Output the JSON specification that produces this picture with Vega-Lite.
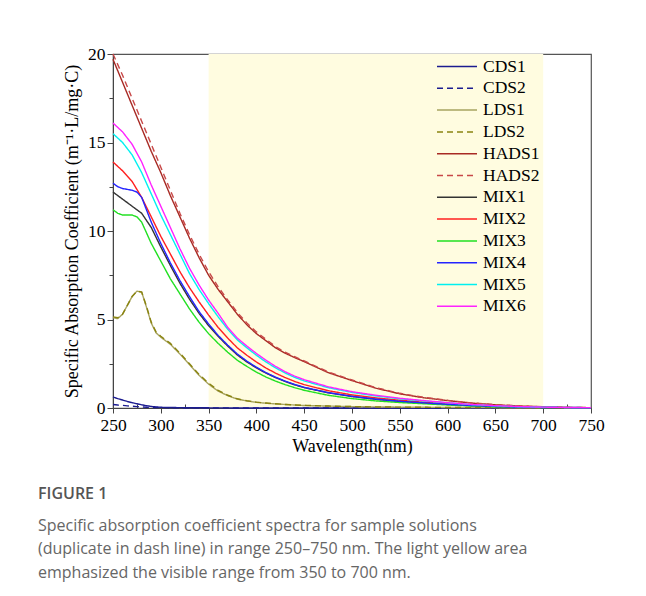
{
  "$schema": "https://vega.github.io/schema/vega-lite/v6.json",
  "width": 478,
  "height": 354,
  "autosize": "none",
  "padding": {"left": 113, "top": 54, "right": 55, "bottom": 188},
  "background": "white",
  "config": {"view": {"stroke": "#555", "strokeWidth": 1.2}, "font": "Liberation Serif"},
  "title": {
    "text": "FIGURE 1",
    "subtitle": ["Specific absorption coefficient spectra for sample solutions", "(duplicate in dash line) in range 250–750 nm. The light yellow area", "emphasized the visible range from 350 to 700 nm."],
    "orient": "bottom", "anchor": "start", "frame": "group", "dx": -75, "offset": 30,
    "font": "Open Sans", "fontSize": 16, "fontWeight": 600, "color": "#555",
    "subtitleFont": "Open Sans", "subtitleFontSize": 16, "subtitleColor": "#666", "subtitleLineHeight": 23.8, "subtitlePadding": 16
  },
  "datasets": {
    "band": [{"a": 350, "b": 700}],
    "spectra": [
      {"w":250,"CDS1":0.62,"CDS2":0.2,"LDS1":5.1,"LDS2":5.15,"HADS1":19.7,"HADS2":20.0,"MIX1":12.2,"MIX2":13.9,"MIX3":11.2,"MIX4":12.7,"MIX5":15.5,"MIX6":16.1},
      {"w":255,"CDS1":0.53,"CDS2":0.17,"LDS1":5.05,"LDS2":5.1,"HADS1":19.05,"HADS2":19.4,"MIX1":12.0,"MIX2":13.65,"MIX3":11.0,"MIX4":12.5,"MIX5":15.25,"MIX6":15.85},
      {"w":260,"CDS1":0.45,"CDS2":0.15,"LDS1":5.3,"LDS2":5.3,"HADS1":18.4,"HADS2":18.8,"MIX1":11.8,"MIX2":13.4,"MIX3":10.9,"MIX4":12.4,"MIX5":15.0,"MIX6":15.6},
      {"w":265,"CDS1":0.37,"CDS2":0.12,"LDS1":5.8,"LDS2":5.8,"HADS1":17.75,"HADS2":18.15,"MIX1":11.6,"MIX2":13.1,"MIX3":10.9,"MIX4":12.35,"MIX5":14.65,"MIX6":15.25},
      {"w":270,"CDS1":0.3,"CDS2":0.1,"LDS1":6.3,"LDS2":6.3,"HADS1":17.1,"HADS2":17.5,"MIX1":11.4,"MIX2":12.8,"MIX3":10.9,"MIX4":12.3,"MIX5":14.3,"MIX6":14.9},
      {"w":275,"CDS1":0.24,"CDS2":0.08,"LDS1":6.6,"LDS2":6.6,"HADS1":16.45,"HADS2":16.85,"MIX1":11.2,"MIX2":12.35,"MIX3":10.8,"MIX4":12.2,"MIX5":13.8,"MIX6":14.4},
      {"w":280,"CDS1":0.18,"CDS2":0.06,"LDS1":6.55,"LDS2":6.55,"HADS1":15.8,"HADS2":16.2,"MIX1":11.0,"MIX2":11.9,"MIX3":10.5,"MIX4":11.9,"MIX5":13.3,"MIX6":13.9},
      {"w":285,"CDS1":0.13,"CDS2":0.045,"LDS1":5.7,"LDS2":5.75,"HADS1":15.15,"HADS2":15.55,"MIX1":10.6,"MIX2":11.35,"MIX3":9.9,"MIX4":11.2,"MIX5":12.7,"MIX6":13.25},
      {"w":290,"CDS1":0.09,"CDS2":0.03,"LDS1":4.8,"LDS2":4.85,"HADS1":14.5,"HADS2":14.9,"MIX1":10.2,"MIX2":10.8,"MIX3":9.3,"MIX4":10.5,"MIX5":12.1,"MIX6":12.6},
      {"w":295,"CDS1":0.06,"CDS2":0.025,"LDS1":4.25,"LDS2":4.3,"HADS1":13.9,"HADS2":14.25,"MIX1":9.65,"MIX2":10.25,"MIX3":8.8,"MIX4":9.9,"MIX5":11.5,"MIX6":12.0},
      {"w":300,"CDS1":0.04,"CDS2":0.02,"LDS1":4.0,"LDS2":4.05,"HADS1":13.3,"HADS2":13.6,"MIX1":9.1,"MIX2":9.7,"MIX3":8.3,"MIX4":9.3,"MIX5":10.9,"MIX6":11.4},
      {"w":310,"CDS1":0.03,"CDS2":0.015,"LDS1":3.6,"LDS2":3.65,"HADS1":12.0,"HADS2":12.3,"MIX1":8.05,"MIX2":8.7,"MIX3":7.3,"MIX4":8.2,"MIX5":9.8,"MIX6":10.2},
      {"w":320,"CDS1":0.02,"CDS2":0.01,"LDS1":3.05,"LDS2":3.1,"HADS1":10.8,"HADS2":11.0,"MIX1":7.05,"MIX2":7.7,"MIX3":6.45,"MIX4":7.2,"MIX5":8.7,"MIX6":9.0},
      {"w":330,"CDS1":0.015,"CDS2":0.01,"LDS1":2.45,"LDS2":2.5,"HADS1":9.6,"HADS2":9.8,"MIX1":6.15,"MIX2":6.8,"MIX3":5.6,"MIX4":6.3,"MIX5":7.6,"MIX6":7.9},
      {"w":340,"CDS1":0.01,"CDS2":0.01,"LDS1":1.85,"LDS2":1.9,"HADS1":8.5,"HADS2":8.7,"MIX1":5.35,"MIX2":6.0,"MIX3":4.85,"MIX4":5.45,"MIX5":6.7,"MIX6":6.95},
      {"w":350,"CDS1":0.01,"CDS2":0.005,"LDS1":1.35,"LDS2":1.4,"HADS1":7.5,"HADS2":7.7,"MIX1":4.65,"MIX2":5.25,"MIX3":4.2,"MIX4":4.75,"MIX5":5.9,"MIX6":6.1},
      {"w":360,"CDS1":0.005,"CDS2":0.005,"LDS1":0.95,"LDS2":1.0,"HADS1":6.7,"HADS2":6.85,"MIX1":4.05,"MIX2":4.55,"MIX3":3.65,"MIX4":4.1,"MIX5":5.15,"MIX6":5.35},
      {"w":370,"CDS1":0.005,"CDS2":0.005,"LDS1":0.7,"LDS2":0.72,"HADS1":6.0,"HADS2":6.1,"MIX1":3.5,"MIX2":3.95,"MIX3":3.15,"MIX4":3.55,"MIX5":4.45,"MIX6":4.55},
      {"w":380,"CDS1":0,"CDS2":0,"LDS1":0.5,"LDS2":0.52,"HADS1":5.3,"HADS2":5.4,"MIX1":3.0,"MIX2":3.4,"MIX3":2.7,"MIX4":3.05,"MIX5":3.85,"MIX6":3.95},
      {"w":390,"CDS1":0,"CDS2":0,"LDS1":0.4,"LDS2":0.41,"HADS1":4.7,"HADS2":4.8,"MIX1":2.6,"MIX2":2.98,"MIX3":2.35,"MIX4":2.65,"MIX5":3.4,"MIX6":3.5},
      {"w":400,"CDS1":0,"CDS2":0,"LDS1":0.32,"LDS2":0.33,"HADS1":4.2,"HADS2":4.3,"MIX1":2.27,"MIX2":2.6,"MIX3":2.03,"MIX4":2.3,"MIX5":2.98,"MIX6":3.08},
      {"w":410,"CDS1":0,"CDS2":0,"LDS1":0.27,"LDS2":0.28,"HADS1":3.8,"HADS2":3.88,"MIX1":1.97,"MIX2":2.26,"MIX3":1.75,"MIX4":2.0,"MIX5":2.6,"MIX6":2.7},
      {"w":420,"CDS1":0,"CDS2":0,"LDS1":0.23,"LDS2":0.24,"HADS1":3.4,"HADS2":3.47,"MIX1":1.72,"MIX2":1.97,"MIX3":1.52,"MIX4":1.74,"MIX5":2.27,"MIX6":2.35},
      {"w":430,"CDS1":0,"CDS2":0,"LDS1":0.2,"LDS2":0.2,"HADS1":3.1,"HADS2":3.15,"MIX1":1.5,"MIX2":1.72,"MIX3":1.32,"MIX4":1.52,"MIX5":1.98,"MIX6":2.05},
      {"w":440,"CDS1":0,"CDS2":0,"LDS1":0.17,"LDS2":0.17,"HADS1":2.85,"HADS2":2.9,"MIX1":1.31,"MIX2":1.5,"MIX3":1.15,"MIX4":1.33,"MIX5":1.73,"MIX6":1.8},
      {"w":450,"CDS1":0,"CDS2":0,"LDS1":0.14,"LDS2":0.15,"HADS1":2.62,"HADS2":2.66,"MIX1":1.15,"MIX2":1.32,"MIX3":1.0,"MIX4":1.17,"MIX5":1.53,"MIX6":1.6},
      {"w":475,"CDS1":0,"CDS2":0,"LDS1":0.11,"LDS2":0.11,"HADS1":2.0,"HADS2":2.04,"MIX1":0.86,"MIX2":0.98,"MIX3":0.72,"MIX4":0.87,"MIX5":1.15,"MIX6":1.2},
      {"w":500,"CDS1":0,"CDS2":0,"LDS1":0.08,"LDS2":0.08,"HADS1":1.55,"HADS2":1.58,"MIX1":0.65,"MIX2":0.74,"MIX3":0.53,"MIX4":0.66,"MIX5":0.88,"MIX6":0.92},
      {"w":525,"CDS1":0,"CDS2":0,"LDS1":0.06,"LDS2":0.06,"HADS1":1.12,"HADS2":1.15,"MIX1":0.49,"MIX2":0.57,"MIX3":0.4,"MIX4":0.5,"MIX5":0.68,"MIX6":0.72},
      {"w":550,"CDS1":0,"CDS2":0,"LDS1":0.05,"LDS2":0.05,"HADS1":0.8,"HADS2":0.83,"MIX1":0.37,"MIX2":0.44,"MIX3":0.31,"MIX4":0.38,"MIX5":0.52,"MIX6":0.55},
      {"w":575,"CDS1":0,"CDS2":0,"LDS1":0.04,"LDS2":0.04,"HADS1":0.58,"HADS2":0.6,"MIX1":0.28,"MIX2":0.33,"MIX3":0.24,"MIX4":0.29,"MIX5":0.4,"MIX6":0.42},
      {"w":600,"CDS1":0,"CDS2":0,"LDS1":0.03,"LDS2":0.03,"HADS1":0.42,"HADS2":0.43,"MIX1":0.2,"MIX2":0.24,"MIX3":0.17,"MIX4":0.21,"MIX5":0.29,"MIX6":0.3},
      {"w":625,"CDS1":0,"CDS2":0,"LDS1":0.02,"LDS2":0.02,"HADS1":0.28,"HADS2":0.29,"MIX1":0.13,"MIX2":0.16,"MIX3":0.11,"MIX4":0.14,"MIX5":0.19,"MIX6":0.2},
      {"w":650,"CDS1":0,"CDS2":0,"LDS1":0.02,"LDS2":0.02,"HADS1":0.18,"HADS2":0.19,"MIX1":0.08,"MIX2":0.1,"MIX3":0.07,"MIX4":0.09,"MIX5":0.12,"MIX6":0.13},
      {"w":675,"CDS1":0,"CDS2":0,"LDS1":0.01,"LDS2":0.01,"HADS1":0.11,"HADS2":0.12,"MIX1":0.05,"MIX2":0.06,"MIX3":0.04,"MIX4":0.05,"MIX5":0.07,"MIX6":0.08},
      {"w":700,"CDS1":0,"CDS2":0,"LDS1":0.01,"LDS2":0.01,"HADS1":0.07,"HADS2":0.07,"MIX1":0.03,"MIX2":0.04,"MIX3":0.03,"MIX4":0.03,"MIX5":0.05,"MIX6":0.05},
      {"w":725,"CDS1":0,"CDS2":0,"LDS1":0,"LDS2":0,"HADS1":0.04,"HADS2":0.04,"MIX1":0.02,"MIX2":0.02,"MIX3":0.02,"MIX4":0.02,"MIX5":0.03,"MIX6":0.03},
      {"w":750,"CDS1":0,"CDS2":0,"LDS1":0,"LDS2":0,"HADS1":0.02,"HADS2":0.02,"MIX1":0.01,"MIX2":0.01,"MIX3":0.01,"MIX4":0.01,"MIX5":0.02,"MIX6":0.02}
    ]
  },
  "layer": [
    {
      "data": {"name": "band"},
      "mark": {"type": "rect", "color": "#FFFCE0"},
      "encoding": {
        "x": {"field": "a", "type": "quantitative", "scale": {"domain": [250, 750], "nice": false},
          "axis": {"orient": "bottom", "values": [275, 325, 375, 425, 475, 525, 575, 625, 675, 725], "tickSize": -4, "labels": false, "domain": false, "title": null, "grid": false, "tickColor": "#444", "tickWidth": 1}},
        "x2": {"field": "b"}
      }
    },
    {
      "data": {"name": "spectra"},
      "transform": [{"fold": ["CDS1","CDS2","LDS1","LDS2","HADS1","HADS2","MIX1","MIX2","MIX3","MIX4","MIX5","MIX6"], "as": ["series", "value"]}],
      "mark": {"type": "line", "strokeWidth": 1.4},
      "encoding": {
        "x": {"field": "w", "type": "quantitative", "scale": {"domain": [250, 750], "nice": false},
          "axis": {"orient": "bottom", "values": [250,300,350,400,450,500,550,600,650,700,750], "tickSize": 5, "grid": false, "labelFontSize": 17.5, "labelColor": "black", "labelFont": "Liberation Serif", "labelPadding": 3, "labelFlush": false,
            "title": "Wavelength(nm)", "titleFontSize": 18, "titleFontWeight": "normal", "titleColor": "black", "titleFont": "Liberation Serif", "titlePadding": 4, "domainColor": "#444", "tickColor": "#444"}},
        "y": {"field": "value", "type": "quantitative", "scale": {"domain": [0, 20], "nice": false},
          "axis": {"values": [0,2.5,5,7.5,10,12.5,15,17.5,20], "labelExpr": "datum.value % 5 === 0 ? format(datum.value, 'd') : ''",
            "tickSize": {"condition": {"test": "datum.value % 5 === 0", "value": 6}, "value": 4},
            "grid": false, "labelFontSize": 17.5, "labelColor": "black", "labelFont": "Liberation Serif", "labelPadding": 2,
            "title": "Specific Absorption Coefficient (m⁻¹·L/mg·C)", "titleFontSize": 18, "titleFontWeight": "normal", "titleColor": "black", "titleFont": "Liberation Serif", "titlePadding": 6, "domainColor": "#444", "tickColor": "#444"}},
        "color": {"field": "series", "type": "nominal",
          "scale": {"domain": ["CDS1","CDS2","LDS1","LDS2","HADS1","HADS2","MIX1","MIX2","MIX3","MIX4","MIX5","MIX6"],
            "range": ["#1c1c90","#1c1c90","#a8a460","#8a8410","#a82a24","#c84848","#333333","#ff2020","#22e022","#2424ff","#00f0f0","#ff22ff"]},
          "legend": {"orient": "none", "legendX": 323, "legendY": 4, "title": null, "symbolType": "stroke", "symbolSize": 1600, "symbolStrokeWidth": 1.5, "clipHeight": 17,
            "labelFontSize": 17.5, "labelFont": "Liberation Serif", "labelColor": "black", "rowPadding": 3.8, "labelOffset": 5, "padding": 0}},
        "strokeDash": {"field": "series", "type": "nominal",
          "scale": {"domain": ["CDS1","CDS2","LDS1","LDS2","HADS1","HADS2","MIX1","MIX2","MIX3","MIX4","MIX5","MIX6"],
            "range": [[1,0],[6,4],[1,0],[6,4],[1,0],[6,4],[1,0],[1,0],[1,0],[1,0],[1,0],[1,0]]},
          "legend": {"orient": "none", "legendX": 323, "legendY": 4, "title": null, "symbolType": "stroke", "symbolSize": 1600, "symbolStrokeWidth": 1.5, "clipHeight": 17,
            "labelFontSize": 17.5, "labelFont": "Liberation Serif", "labelColor": "black", "rowPadding": 3.8, "labelOffset": 5, "padding": 0}}
      }
    }
  ],
  "resolve": {"axis": {"x": "independent"}}
}
